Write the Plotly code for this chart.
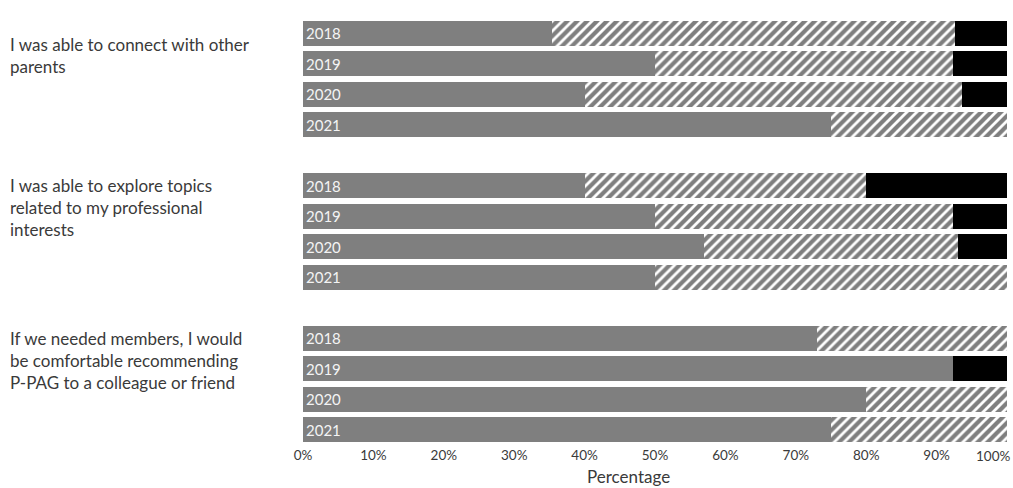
import plotly.graph_objects as go

# Survey statements (left-hand labels, with manual line breaks)
statements = [
    "I was able to connect with other<br>parents",
    "I was able to explore topics<br>related to my professional<br>interests",
    "If we needed members, I would<br>be comfortable recommending<br>P-PAG to a colleague or friend",
]
years = ["2018", "2019", "2020", "2021"]

# Percentages per statement, one value per year
agree = [
    [35.3, 50.0, 40.0, 75.0],
    [40.0, 50.0, 57.0, 50.0],
    [73.0, 92.3, 80.0, 75.0],
]
neutral = [
    [57.3, 42.3, 53.6, 25.0],
    [40.0, 42.3, 36.0, 50.0],
    [27.0, 0.0, 20.0, 25.0],
]
disagree = [
    [7.4, 7.7, 6.4, 0.0],
    [20.0, 7.7, 7.0, 0.0],
    [0.0, 7.7, 0.0, 0.0],
]
x_ticks = [0, 10, 20, 30, 40, 50, 60, 70, 80, 90, 100]

# one row per (statement, year); one blank row between statements
slot = len(years) + 1
rows, labels, a_vals, n_vals, d_vals = [], [], [], [], []
for gi in range(len(statements)):
    for yi, yr in enumerate(years):
        rows.append(gi * slot + yi)
        labels.append(yr)
        a_vals.append(agree[gi][yi])
        n_vals.append(neutral[gi][yi])
        d_vals.append(disagree[gi][yi])

FONT = "Lato, 'Noto Sans', sans-serif"
TEXT = "#3a3a3a"
fig = go.Figure()
fig.add_trace(go.Bar(
    y=rows, x=a_vals, orientation="h", marker=dict(color="#7f7f7f", line=dict(width=0)),
    text=labels, textposition="inside", insidetextanchor="start",
    textfont=dict(color="#f4f4f4", size=15, family=FONT), hoverinfo="skip",
))
fig.add_trace(go.Bar(
    y=rows, x=n_vals, orientation="h",
    marker=dict(color="white", line=dict(width=0),
                pattern=dict(shape="/", fgcolor="black", bgcolor="white", size=7, solidity=0.6)),
    hoverinfo="skip",
))
fig.add_trace(go.Bar(
    y=rows, x=d_vals, orientation="h", marker=dict(color="black", line=dict(width=0)),
    hoverinfo="skip",
))

n_rows = slot * len(statements) - 1
fig.update_layout(
    barmode="stack", bargap=0.18, showlegend=False,
    width=1013, height=488,
    margin=dict(l=303, r=6, t=18, b=43, autoexpand=False),
    paper_bgcolor="white", plot_bgcolor="white",
    font=dict(family=FONT, color=TEXT, size=13),
    xaxis=dict(range=[0, 100], tickvals=x_ticks[:-1],
               ticktext=[f"{v}%" for v in x_ticks[:-1]],
               showgrid=False, zeroline=False, showline=False, ticks="",
               automargin=False, tickfont=dict(size=13.5, color=TEXT)),
    yaxis=dict(range=[n_rows - 0.5, -0.5], showticklabels=False, showgrid=False,
               zeroline=False, showline=False, ticks="", automargin=False),
)

# last tick label, right-aligned so it stays inside the page
fig.add_annotation(
    xref="x", yref="paper", x=x_ticks[-1], y=0, yshift=-11, xshift=5,
    text=f"{x_ticks[-1]}%", showarrow=False, xanchor="right", yanchor="middle",
    font=dict(size=13.5, color=TEXT, family=FONT),
)

# x-axis title
fig.add_annotation(
    xref="paper", yref="paper", x=0.462, y=0, yshift=-31,
    text="Percentage", showarrow=False, xanchor="center", yanchor="middle",
    font=dict(size=17, color=TEXT, family=FONT),
)

# statement labels to the left of each group
for gi, text in enumerate(statements):
    fig.add_annotation(
        xref="paper", yref="y", x=-0.419, y=gi * slot + 0.72,
        text=text, showarrow=False, xanchor="left", yanchor="middle", align="left",
        font=dict(size=17, color=TEXT, family=FONT),
    )

fig.write_html("out.html")
